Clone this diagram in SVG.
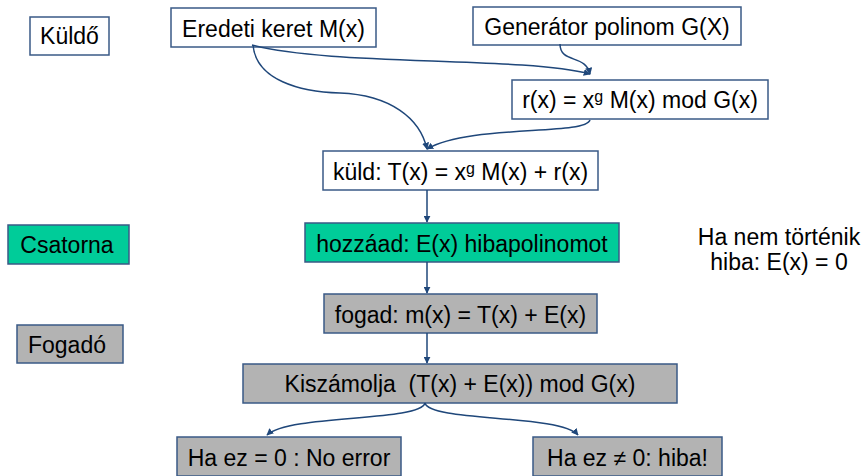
<svg xmlns="http://www.w3.org/2000/svg" width="861" height="476" viewBox="0 0 861 476">
<style>
  .box { stroke: #3A5A86; stroke-width: 1.5; }
  .w { fill: #FFFFFF; }
  .t { fill: #00CC99; }
  .g { fill: #B3B3B3; }
  text { font-family: "Liberation Sans", Arial, sans-serif; font-size: 23px; fill: #000; text-anchor: middle; white-space: pre; }
  .sup { font-size: 16px; }
  .conn path { fill: none; stroke: #1F477A; stroke-width: 1.5; }
</style>
<defs>
  <marker id="ah" viewBox="0 0 10 10" refX="9" refY="5" markerWidth="7" markerHeight="7" orient="auto" markerUnits="userSpaceOnUse">
    <path d="M0,0 L10,5 L0,10 z" fill="#1F477A"/>
  </marker>
</defs>
<rect width="861" height="476" fill="#FFFFFF"/>

<g id="kuldo">
  <rect class="box w" x="30" y="17" width="79" height="38"/>
  <text x="69.5" y="44">Küldő</text>
</g>
<g id="eredeti">
  <rect class="box w" x="171" y="8" width="205" height="39"/>
  <text x="273.5" y="37">Eredeti keret M(x)</text>
</g>
<g id="generator">
  <rect class="box w" x="473" y="7" width="268" height="38"/>
  <text x="607" y="35">Generátor polinom G(X)</text>
</g>
<g id="rx">
  <rect class="box w" x="512" y="80" width="256" height="39"/>
  <text x="640" y="108">r(x) = x<tspan class="sup" dy="-6">g</tspan><tspan dy="6"> M(x) mod G(x)</tspan></text>
</g>
<g id="kuld">
  <rect class="box w" x="323" y="151" width="275" height="39"/>
  <text x="460.5" y="180">küld: T(x) = x<tspan class="sup" dy="-6">g</tspan><tspan dy="6"> M(x) + r(x)</tspan></text>
</g>
<g id="csatorna">
  <rect class="box t" x="8" y="225" width="121" height="39"/>
  <text x="67" y="253">Csatorna</text>
</g>
<g id="hozzaad">
  <rect class="box t" x="305" y="223" width="314" height="39"/>
  <text x="462" y="252">hozzáad: E(x) hibapolinomot</text>
</g>
<g id="megjegyzes">
  <text x="779" y="245">Ha nem történik</text>
  <text x="779" y="270">hiba: E(x) = 0</text>
</g>
<g id="fogado">
  <rect class="box g" x="17" y="325" width="106" height="38"/>
  <text x="67" y="353">Fogadó</text>
</g>
<g id="fogad">
  <rect class="box g" x="324" y="294" width="273" height="39"/>
  <text x="460.5" y="323">fogad: m(x) = T(x) + E(x)</text>
</g>
<g id="kiszamolja">
  <rect class="box g" x="243" y="364" width="434" height="39"/>
  <text x="460" y="392">Kiszámolja  (T(x) + E(x)) mod G(x)</text>
</g>
<g id="noerror">
  <rect class="box g" x="177" y="437" width="224" height="39"/>
  <text x="289" y="466">Ha ez = 0 : No error</text>
</g>
<g id="hiba">
  <rect class="box g" x="533" y="437" width="189" height="39"/>
  <text x="627.5" y="466">Ha ez ≠ 0: hiba!</text>
</g>

<g id="connectors" class="conn">
  <path d="M252,45 C330,66 520,56 590,74" marker-end="url(#ah)"/>
  <path d="M253,45 C256,80 300,92 340,93 C390,95 420,118 427,149" marker-end="url(#ah)"/>
  <path d="M560,44 C560,64 586,54 590,74" marker-end="url(#ah)"/>
  <path d="M590,120 C585,136 470,124 427,149" marker-end="url(#ah)"/>
  <path d="M427,190 L427,222" marker-end="url(#ah)"/>
  <path d="M427,262 L427,293" marker-end="url(#ah)"/>
  <path d="M427,333 L427,363" marker-end="url(#ah)"/>
  <path d="M425,403 C420,422 290,414 267,435" marker-end="url(#ah)"/>
  <path d="M425,403 C430,422 560,414 578,435" marker-end="url(#ah)"/>
</g>
</svg>
